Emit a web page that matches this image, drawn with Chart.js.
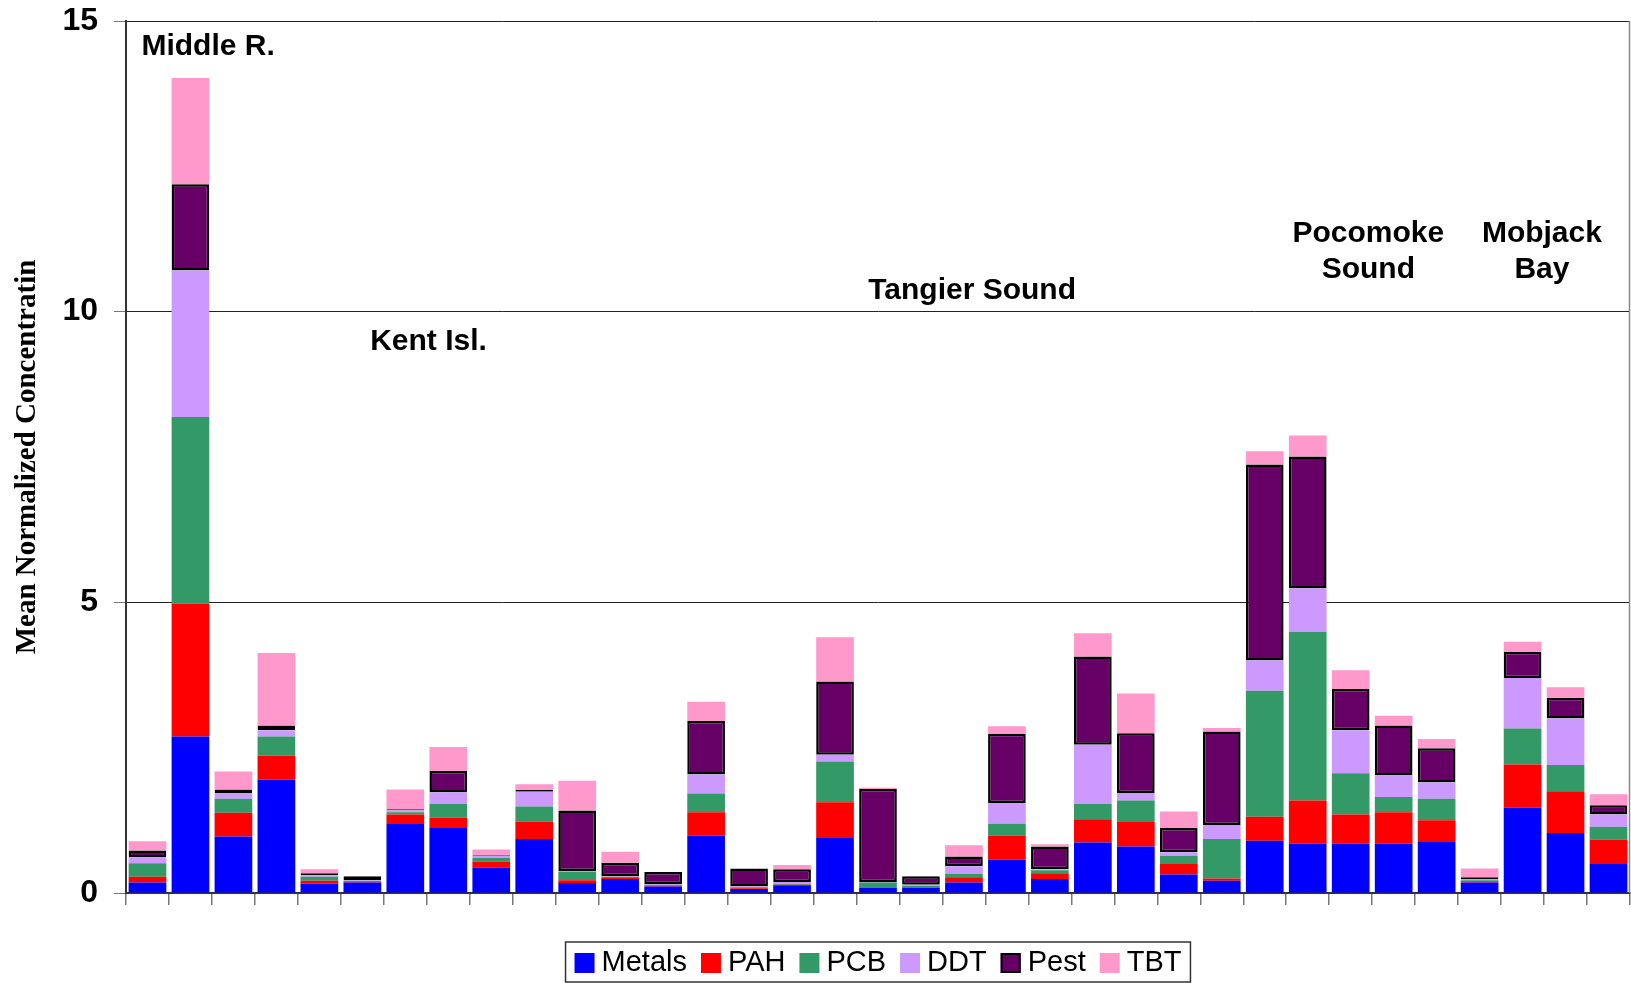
<!DOCTYPE html>
<html>
<head>
<meta charset="utf-8">
<script src="https://cdn.jsdelivr.net/npm/chart.js@4.4.1/dist/chart.umd.min.js"></script>
<style>
  html, body { margin: 0; padding: 0; background: #fff; }
  #wrap { width: 1631px; height: 983px; }
</style>
</head>
<body>
<div id="wrap"><canvas id="chart"></canvas></div>
<script>
// stations (no labels shown on the axis)
var stations = ['1','2','3','4','5','6','7','8','9','10','11','12','13','14','15','16','17','18',
                '19','20','21','22','23','24','25','26','27','28','29','30','31','32','33','34','35'];

// mean normalized concentration, one value per station
var metals = [0.18,2.69,0.97,1.95,0.16,0.18,1.20,1.12,0.44,0.93,0.17,0.24,0.11,0.99,0.07,0.12,0.96,0.09,
              0.09,0.18,0.57,0.24,0.87,0.80,0.32,0.21,0.90,0.85,0.85,0.85,0.89,0.18,1.47,1.03,0.50];
var pah    = [0.10,2.29,0.41,0.41,0.05,0.01,0.15,0.18,0.10,0.30,0.05,0.03,0.02,0.40,0.01,0.02,0.60,0.01,
              0.01,0.09,0.42,0.10,0.40,0.42,0.18,0.04,0.41,0.74,0.50,0.54,0.36,0.02,0.74,0.72,0.42];
var pcb    = [0.23,3.21,0.24,0.33,0.07,0.02,0.04,0.23,0.06,0.26,0.14,0.01,0.01,0.32,0.02,0.02,0.70,0.08,
              0.02,0.06,0.20,0.05,0.26,0.37,0.14,0.68,2.17,2.90,0.71,0.26,0.37,0.02,0.62,0.45,0.22];
var ddt    = [0.10,2.52,0.10,0.11,0.02,0.01,0.03,0.20,0.04,0.25,0.02,0.01,0.01,0.33,0.01,0.03,0.12,0.01,
              0.02,0.13,0.36,0.02,1.02,0.13,0.06,0.24,0.52,0.75,0.74,0.37,0.28,0.02,0.87,0.80,0.21];
var pest   = [0.12,1.48,0.06,0.08,0.04,0.07,0.02,0.37,0.02,0.03,1.04,0.23,0.21,0.92,0.31,0.22,1.26,1.60,
              0.15,0.17,1.19,0.39,1.52,1.03,0.42,1.61,3.37,2.27,0.71,0.86,0.59,0.03,0.45,0.36,0.16];
var tbt    = [0.16,1.83,0.31,1.25,0.07,0.00,0.34,0.41,0.09,0.10,0.51,0.19,0.00,0.33,0.00,0.07,0.76,0.02,
              0.00,0.19,0.13,0.04,0.40,0.68,0.28,0.06,0.23,0.36,0.32,0.17,0.16,0.15,0.17,0.18,0.19];

var yTicks = [0, 5, 10, 15];

// region names written over the bars: station index and y value
var regions = [
  { lines: ['Middle R.'], at: 1.41, y: 14.55 },
  { lines: ['Kent Isl.'], at: 6.54, y: 9.48 },
  { lines: ['Tangier Sound'], at: 19.19, y: 10.36 },
  { lines: ['Pocomoke', 'Sound'], at: 28.41, y: 11.34 },
  { lines: ['Mobjack', 'Bay'], at: 32.45, y: 11.34 }
];

var sans = "'Liberation Sans', Arial, sans-serif";

function series(label, data, color) {
  return { label: label, data: data, backgroundColor: color, borderWidth: 0,
           barPercentage: 0.877, categoryPercentage: 1.0 };
}

var pestSet = series('Pest', pest, '#660066');
pestSet.borderColor = '#000';
pestSet.borderWidth = 2.5;
pestSet.borderSkipped = false;

var decor = {
  id: 'decor',
  afterDraw: function (chart) {
    var ctx = chart.ctx, area = chart.chartArea;
    var xs = chart.scales.x, ys = chart.scales.y;
    ctx.save();

    // right frame line
    ctx.strokeStyle = '#888';
    ctx.lineWidth = 1.5;
    ctx.beginPath();
    ctx.moveTo(area.right - 0.5, area.top);
    ctx.lineTo(area.right - 0.5, area.bottom);
    ctx.stroke();

    // region names
    ctx.fillStyle = '#000';
    ctx.font = 'bold 30px ' + sans;
    ctx.textAlign = 'center';
    ctx.textBaseline = 'middle';
    regions.forEach(function (r) {
      var px = xs.getPixelForValue(r.at);
      var py = ys.getPixelForValue(r.y);
      r.lines.forEach(function (t, i) { ctx.fillText(t, px, py + i * 36); });
    });

    // legend with frame
    ctx.font = '29px ' + sans;
    ctx.textAlign = 'left';
    var items = chart.data.datasets;
    var box = 20, gap = 7, sep = 14, pad = 9;
    var total = 0;
    items.forEach(function (d, i) {
      total += box + gap + ctx.measureText(d.label).width + (i < items.length - 1 ? sep : 0);
    });
    var left = (area.left + area.right) / 2 - total / 2 - pad;
    var top = 942, h = 40;
    ctx.strokeStyle = '#333';
    ctx.lineWidth = 1.5;
    ctx.strokeRect(left, top, total + 2 * pad, h);
    var x = left + pad, cy = top + h / 2 + 1;
    items.forEach(function (d) {
      ctx.fillStyle = d.backgroundColor;
      ctx.fillRect(x, cy - 10, box, box);
      if (d.borderWidth) {
        ctx.strokeStyle = '#000';
        ctx.lineWidth = 2;
        ctx.strokeRect(x + 1, cy - 9, box - 2, box - 2);
      }
      ctx.fillStyle = '#000';
      ctx.fillText(d.label, x + box + gap, cy);
      x += box + gap + ctx.measureText(d.label).width + sep;
    });
    ctx.restore();
  }
};

new Chart(document.getElementById('chart').getContext('2d'), {
  type: 'bar',
  data: {
    labels: stations,
    datasets: [
      series('Metals', metals, '#0000ff'),
      series('PAH', pah, '#ff0000'),
      series('PCB', pcb, '#339966'),
      series('DDT', ddt, '#cc99ff'),
      pestSet,
      series('TBT', tbt, '#ff99cc')
    ]
  },
  options: {
    responsive: true,
    maintainAspectRatio: false,
    animation: false,
    layout: { padding: { top: 21, right: 1, left: 0, bottom: 0 } },
    plugins: { legend: { display: false }, tooltip: { enabled: false } },
    scales: {
      x: {
        stacked: true,
        grid: { display: true, offset: true, drawOnChartArea: false, drawTicks: true,
                tickLength: 12, tickColor: '#777', color: '#777', lineWidth: 1.5 },
        border: { display: true, color: '#333', width: 2 },
        ticks: { display: false },
        afterFit: function (s) { s.height = 90; s.paddingLeft = 0; s.paddingRight = 0; }
      },
      y: {
        stacked: true,
        min: 0,
        max: 15,
        afterBuildTicks: function (s) { s.ticks = yTicks.map(function (v) { return { value: v }; }); },
        ticks: { color: '#000', padding: 16, font: { family: sans, size: 32, weight: 'bold' } },
        grid: { color: '#222', lineWidth: 1, drawTicks: true, tickLength: 12, tickColor: '#777' },
        border: { display: true, color: '#333', width: 2 },
        title: {
          display: true,
          text: 'Mean Normalized Concentratin',
          color: '#000',
          font: { family: "'Liberation Serif', 'Times New Roman', serif", size: 29, weight: 'bold' },
          padding: { top: 10, bottom: 0 }
        },
        afterFit: function (s) { s.width = 126; s.paddingTop = 0; s.paddingBottom = 0; }
      }
    }
  },
  plugins: [decor]
});
</script>
</body>
</html>
